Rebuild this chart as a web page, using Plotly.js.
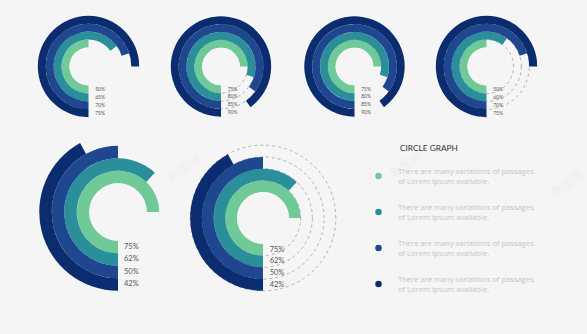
<!DOCTYPE html>
<html>
<head>
<meta charset="utf-8">
<script src="https://cdn.plot.ly/plotly-3.0.1.min.js"></script>
<style>
html,body{margin:0;padding:0;background:#f5f5f5;}
#chart{width:587px;height:334px;}
</style>
</head>
<body>
<div id="chart"></div>
<script>
// ---- data (inner ring -> outer ring) ----
const chart1Values = [50, 65, 70, 75];
const chart2Values = [75, 80, 85, 90];
const chart3Values = [75, 80, 85, 90];
const chart4Values = [50, 60, 70, 75];
const chart5Values = [75, 62, 50, 42];
const chart6Values = [75, 62, 50, 42];
const ringColors = ['#70ca98', '#2b8e9b', '#1f4790', '#0b2c6f'];
const legendTitle = 'CIRCLE GRAPH';
const legendTexts = [
  'There are many variations of passages<br>of Lorem Ipsum available.',
  'There are many variations of passages<br>of Lorem Ipsum available.',
  'There are many variations of passages<br>of Lorem Ipsum available.',
  'There are many variations of passages<br>of Lorem Ipsum available.'
];

// ---- layout of the six dials (pixel geometry) ----
const W = 587, H = 334;
const dials = [
  {vals: chart1Values, cx: 88.5, cy: 66.5, R: 51.5, hole: 0.37, dots: false, fs: 5,   gap: 9},
  {vals: chart2Values, cx: 221,  cy: 66.5, R: 51,   hole: 0.37, dots: true,  fs: 5,   gap: 9},
  {vals: chart3Values, cx: 354.5,cy: 66.5, R: 51,   hole: 0.37, dots: false, fs: 5,   gap: 9},
  {vals: chart4Values, cx: 486.5,cy: 66.5, R: 51.5, hole: 0.37, dots: true,  fs: 5,   gap: 9},
  {vals: chart5Values, cx: 118,  cy: 212,  R: 80,   hole: 0.36, dots: false, fs: 7.5, gap: 8},
  {vals: chart6Values, cx: 263,  cy: 218,  R: 74,   hole: 0.35, dots: true,  fs: 7.5, gap: 9}
];

const traces = [];
const layout = {
  width: W, height: H,
  margin: {l: 0, r: 0, t: 0, b: 0},
  paper_bgcolor: '#f5f5f5',
  plot_bgcolor: 'rgba(0,0,0,0)',
  showlegend: false,
  font: {family: 'Lato, "Open Sans", sans-serif'},
  annotations: []
};

dials.forEach((d, k) => {
  const name = k === 0 ? 'polar' : 'polar' + (k + 1);
  const n = d.vals.length;
  const idx = d.vals.map((_, i) => i);
  traces.push({
    type: 'barpolar',
    subplot: name,
    r: d.vals.map(() => 1),
    base: idx,
    theta: d.vals.map(v => v * 3.6 / 2),
    width: d.vals.map(v => v * 3.6),
    marker: {color: ringColors, line: {width: 0}},
    hoverinfo: 'skip'
  });
  traces.push({
    type: 'scatterpolar',
    subplot: name,
    mode: 'markers+text',
    r: idx.map(i => i + 0.5),
    theta: d.vals.map(() => 0),
    text: d.vals.map(v => v + '%'),
    textposition: 'middle right',
    marker: {size: d.gap, opacity: 0},
    textfont: {size: d.fs, color: '#555555', family: 'Lato, sans-serif'},
    hoverinfo: 'skip'
  });
  layout[name] = {
    domain: {
      x: [(d.cx - d.R) / W, (d.cx + d.R) / W],
      y: [(H - d.cy - d.R) / H, (H - d.cy + d.R) / H]
    },
    hole: d.hole,
    bgcolor: 'rgba(0,0,0,0)',
    angularaxis: {
      rotation: 270, direction: 'clockwise',
      showgrid: false, showline: false, showticklabels: false, ticks: ''
    },
    radialaxis: {
      range: [0, n + 0.1],
      layer: 'below traces',
      showline: false, showticklabels: false, ticks: '',
      showgrid: d.dots,
      tickmode: 'array',
      tickvals: [0, 1, 2, 3, 4, n + 0.1],
      gridcolor: '#b0b0b0', gridwidth: 1, griddash: 'dot'
    }
  };
});

// ---- legend block ----
traces.push({
  type: 'scatter', xaxis: 'x', yaxis: 'y', mode: 'markers',
  x: ringColors.map(() => 0),
  y: ringColors.map((_, i) => i),
  marker: {size: 6.5, color: ringColors},
  hoverinfo: 'skip'
});
layout.xaxis = {domain: [370 / W, 387 / W], range: [-1, 1], visible: false, fixedrange: true};
layout.yaxis = {domain: [32 / H, 176 / H], range: [3.5, -0.5], visible: false, fixedrange: true};

layout.annotations.push({
  xref: 'paper', yref: 'paper', x: 398 / W, y: (H - 148) / H,
  xanchor: 'left', yanchor: 'middle', showarrow: false,
  text: legendTitle,
  font: {size: 8.3, color: '#333333', family: 'Lato, sans-serif'}
});
legendTexts.forEach((t, i) => {
  layout.annotations.push({
    xref: 'paper', yref: 'y', x: 396 / W, y: i,
    xanchor: 'left', yanchor: 'middle', align: 'left', showarrow: false,
    text: t,
    font: {size: 7.6, color: '#c4c4c4', family: '"Open Sans", sans-serif'}
  });
});

// faint watermark
[[183, 168], [405, 163], [566, 182]].forEach(p => {
  layout.annotations.push({
    xref: 'paper', yref: 'paper', x: p[0] / W, y: (H - p[1]) / H,
    xanchor: 'center', yanchor: 'middle', showarrow: false,
    text: '新图网', textangle: -35,
    font: {size: 12, color: 'rgba(160,160,160,0.13)', family: '"Noto Sans CJK SC", sans-serif'}
  });
});

Plotly.newPlot('chart', traces, layout, {displayModeBar: false, staticPlot: true});
</script>
</body>
</html>
